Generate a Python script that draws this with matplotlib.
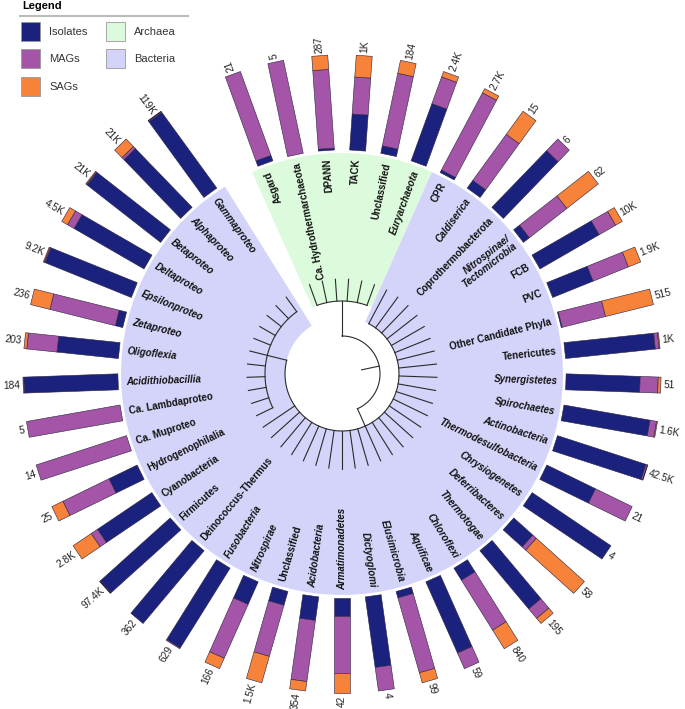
import numpy as np
import matplotlib.pyplot as plt
from matplotlib.patches import Polygon, Rectangle

# clades clockwise from the top (archaea first)
clades = ['Asgard', 'Ca. Hydrothermarchaeota', 'DPANN', 'TACK', 'Unclassified',
          'Euryarchaeota', 'CPR', 'Caldiserica', 'Coprothermobacterota',
          'Nitrospinae/\nTectomicrobia', 'FCB', 'PVC', 'Other Candidate Phyla',
          'Tenericutes', 'Synergistetes', 'Spirochaetes', 'Actinobacteria',
          'Thermodesulfobacteria', 'Chrysiogenetes', 'Deferribacteres',
          'Thermotogae', 'Chloroflexi', 'Aquificae', 'Elusimicrobia',
          'Dictyoglomi', 'Armatimonadetes', 'Acidobacteria', 'Unclassified',
          'Nitrospirae', 'Fusobacteria', 'Deinococcus-Thermus', 'Firmicutes',
          'Cyanobacteria', 'Hydrogenophilalia', 'Ca. Muproteo',
          'Ca. Lambdaproteo', 'Acidithiobacillia', 'Oligoflexia', 'Zetaproteo',
          'Epsilonproteo', 'Deltaproteo', 'Betaproteo', 'Alphaproteo',
          'Gammaproteo']
totals = ['21', '5', '287', '1K', '184', '2.4K', '2.7K', '15', '6', '62', '10K',
          '1.9K', '515', '1K', '51', '1.6K', '42.5K', '21', '4', '58', '195',
          '840', '59', '99', '4', '42', '354', '1.5K', '166', '629', '362',
          '97.4K', '2.8K', '25', '14', '5', '184', '203', '236', '9.2K', '4.5K',
          '21K', '21K', '119K']
# share of genomes per clade
isolates = [0.06, 0, 0.02, 0.38, 0.08, 0.64, 0.03, 0.10, 0.83, 0.08, 0.72,
            0.46, 0.01, 0.95, 0.78, 0.92, 0.98, 0.57, 1.0, 0.27, 0.80, 0.15,
            0.82, 0.07, 0.75, 0.19, 0.25, 0.15, 0.26, 0.99, 1.0, 0.99, 0.69,
            0.33, 0, 0, 0.99, 0.65, 0.08, 0.98, 0.85, 0.98, 0.86, 0.985]
mags = [0.94, 1.0, 0.83, 0.39, 0.78, 0.30, 0.92, 0.60, 0.17, 0.50, 0.20,
        0.40, 0.47, 0.04, 0.19, 0.07, 0.015, 0.43, 0, 0.05, 0.13, 0.62,
        0.18, 0.82, 0.25, 0.60, 0.65, 0.56, 0.62, 0.01, 0, 0.005, 0.08,
        0.54, 1.0, 1.0, 0.01, 0.32, 0.71, 0.01, 0.08, 0.01, 0.03, 0.01]
sags = [0, 0, 0.15, 0.23, 0.14, 0.06, 0.05, 0.30, 0, 0.42, 0.08,
        0.14, 0.52, 0.01, 0.03, 0.01, 0.005, 0, 0, 0.68, 0.07, 0.23,
        0, 0.11, 0, 0.21, 0.10, 0.29, 0.12, 0, 0, 0.005, 0.23,
        0.13, 0, 0, 0, 0.03, 0.21, 0.01, 0.07, 0.01, 0.11, 0.005]
n_archaea = 6
n_proteo = 11

italic_names = {'Euryarchaeota', 'Caldiserica', 'Nitrospinae/\nTectomicrobia',
                'Synergistetes', 'Spirochaetes', 'Actinobacteria',
                'Thermodesulfobacteria', 'Chrysiogenetes', 'Deferribacteres',
                'Thermotogae', 'Chloroflexi', 'Aquificae', 'Elusimicrobia',
                'Dictyoglomi', 'Armatimonadetes', 'Acidobacteria', 'Nitrospirae',
                'Fusobacteria', 'Acidithiobacillia', 'Oligoflexia', 'Zetaproteo',
                'Epsilonproteo', 'Deltaproteo', 'Betaproteo', 'Alphaproteo',
                'Gammaproteo'}

c_iso, c_mag, c_sag = '#1B227D', '#A555A8', '#F7823A'
c_arch, c_bact = '#DCFADC', '#D4D4FA'
fam = ['Liberation Sans', 'DejaVu Sans']

W, H = 685, 709
CX, CY = 342, 374
fig = plt.figure(figsize=(W / 100, H / 100), dpi=100)
ax = fig.add_axes([0, 0, 1, 1])
ax.set_xlim(0, W)
ax.set_ylim(H, 0)
ax.axis('off')


def pol(r, th):
    t = np.radians(th)
    return CX + r * np.cos(t), CY - r * np.sin(t)


def arc(r, t1, t2, n=80):
    ts = np.linspace(t1, t2, n)
    return [pol(r, t) for t in ts]


n = len(clades)
step = 8.0
theta = 110 - step * np.arange(n)

# highlight sectors
r_hl = 221


def sector(r1, r2, t1, t2, color):
    pts = arc(r2, t1, t2) + arc(r1, t2, t1)
    ax.add_patch(Polygon(pts, closed=True, facecolor=color, edgecolor='none', zorder=1))


sector(73, r_hl, theta[0] + step / 2, theta[n_archaea - 1] - step / 2, c_arch)
sector(57, r_hl, theta[n_archaea] + step / 2, theta[-1] - step / 2, c_bact)

# tree
tree_kw = dict(color='#2b2b2b', lw=0.8, zorder=3)
r_tip, r_arch, r_bact, r_prot, r_root, r_root0 = 95, 73, 57, 77, 38, 20
i_prot = n - n_proteo
th_arch = (theta[0] + theta[n_archaea - 1]) / 2
th_prot = (theta[i_prot] + theta[-1]) / 2
th_bact = (theta[n_archaea] + th_prot) / 2
th_root = (th_arch + th_bact) / 2


def line(r1, r2, th):
    (x1, y1), (x2, y2) = pol(r1, th), pol(r2, th)
    ax.plot([x1, x2], [y1, y2], **tree_kw)


def arc_line(r, t1, t2):
    pts = np.array(arc(r, t1, t2))
    ax.plot(pts[:, 0], pts[:, 1], **tree_kw)


line(r_root0, r_root, th_root)
arc_line(r_root, th_arch, th_bact)
line(r_root, r_arch, th_arch)
line(r_root, r_bact, th_bact)
arc_line(r_arch, theta[0], theta[n_archaea - 1])
arc_line(r_bact, theta[n_archaea], th_prot)
line(r_bact, r_prot, th_prot)
arc_line(r_prot, theta[i_prot], theta[-1])
for i, th in enumerate(theta):
    if i < n_archaea:
        start = r_arch
    elif i < i_prot:
        start = r_bact
    else:
        start = r_prot
    line(start, r_tip, th)

# stacked radial bars
r_in, bar_len, half_w = 224, 95, 8
for i, th in enumerate(theta):
    t = np.radians(th)
    u = np.array([np.cos(t), -np.sin(t)])
    nv = np.array([np.sin(t), np.cos(t)])
    c0 = np.array([CX, CY])
    start = 0.0
    for frac, col in zip([isolates[i], mags[i], sags[i]], [c_iso, c_mag, c_sag]):
        if frac <= 0:
            continue
        a = r_in + bar_len * start
        b = r_in + bar_len * (start + frac)
        pts = [c0 + a * u + half_w * nv, c0 + b * u + half_w * nv,
               c0 + b * u - half_w * nv, c0 + a * u - half_w * nv]
        ax.add_patch(Polygon(pts, closed=True, facecolor=col, edgecolor='#2a2340',
                             lw=0.4, zorder=4))
        start += frac

# labels
for i, th in enumerate(theta):
    flip = 115 < (th % 360) < 275
    rot = th + 180 if flip else th
    x, y = pol(216, th)
    style = 'italic' if clades[i] in italic_names else 'normal'
    ax.text(x, y, clades[i], rotation=rot % 360, rotation_mode='anchor',
            ha='left' if flip else 'right', va='center', fontsize=7,
            fontweight='bold', fontstyle=style, family=fam, color='#111111',
            multialignment='left' if flip else 'right', linespacing=1.0, zorder=5)
    x, y = pol(r_in + bar_len + 3, th)
    ax.text(x, y, totals[i], rotation=rot % 360, rotation_mode='anchor',
            ha='right' if flip else 'left', va='center', fontsize=7.3,
            family=fam, color='#222222', zorder=5)

# legend
ax.text(22, 6, 'Legend', fontsize=8, fontweight='bold', family=fam,
        va='center', ha='left')
ax.plot([20, 188], [16, 16], color='#BBBBBB', lw=1.5)
legend_items = [('Isolates', c_iso, 21, 22), ('MAGs', c_mag, 21, 49),
                ('SAGs', c_sag, 21, 77), ('Archaea', c_arch, 106, 22),
                ('Bacteria', c_bact, 106, 49)]
for name, col, lx, ly in legend_items:
    ax.add_patch(Rectangle((lx, ly), 19, 19, facecolor=col, edgecolor='#999999',
                           lw=0.6))
    ax.text(lx + 28, ly + 10, name, fontsize=8, family=fam, va='center', ha='left',
            color='#333333')

fig.savefig('out.png', dpi=100)
